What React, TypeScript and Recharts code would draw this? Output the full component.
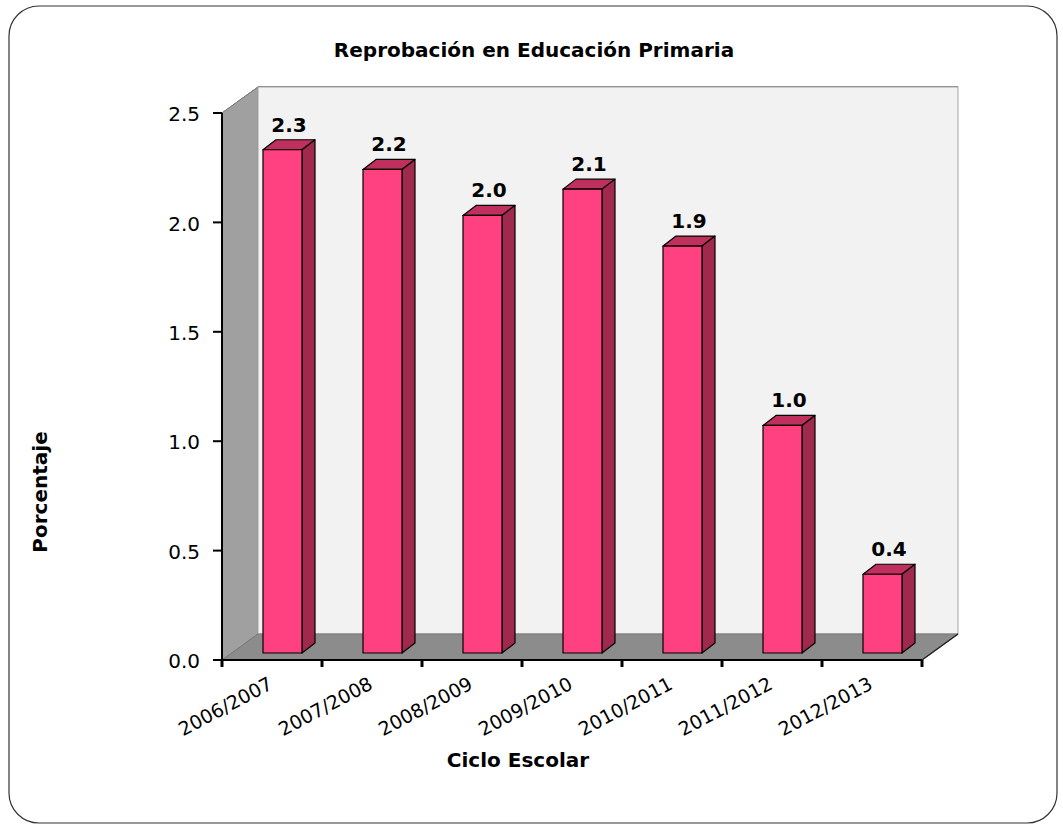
import { BarChart, Bar, XAxis, YAxis, CartesianGrid, LabelList, usePlotArea } from 'recharts'

const categories = ['2006/2007', '2007/2008', '2008/2009', '2009/2010', '2010/2011', '2011/2012', '2012/2013']
const reprobacion = [2.3, 2.21, 2.0, 2.12, 1.86, 1.04, 0.36]
const yTicks = [0, 0.5, 1.0, 1.5, 2.0, 2.5]

const data = categories.map((ciclo, i) => ({ ciclo, valor: reprobacion[i] }))

// 3d offsets (wall depth, bar position in depth, bar depth)
const DX = 36, DY = -26
const BX = 10, BY = -7
const BDX = 13, BDY = -10

const FONT = '"DejaVu Sans", Verdana, sans-serif'

const Frame = () => {
  const plot = usePlotArea()
  if (!plot) return null
  const { x, y, width, height } = plot
  const bottom = y + height
  const right = x + width
  const n = categories.length
  return (
    <g>
      <polygon points={`${x},${y} ${x + DX},${y + DY} ${x + DX},${bottom + DY} ${x},${bottom}`} fill="#a0a0a0" stroke="#808080" />
      <rect x={x + DX} y={y + DY} width={width} height={height} fill="#f2f2f2" stroke="#a6a6a6" />
      <polygon points={`${x},${bottom} ${x + DX},${bottom + DY} ${right + DX},${bottom + DY} ${right},${bottom}`} fill="#8c8c8c" stroke="#7a7a7a" />
      <line x1={right} y1={bottom} x2={right + DX} y2={bottom + DY} stroke="#222" strokeWidth={1.5} />
      {Array.from({ length: n + 1 }, (_, i) => {
        const tx = x + (i * width) / n
        return <line key={i} x1={tx} y1={bottom} x2={tx} y2={bottom + 7} stroke="#000" strokeWidth={3} />
      })}
      <line x1={x - 9} y1={bottom} x2={x} y2={bottom} stroke="#000" strokeWidth={2} />
    </g>
  )
}

const Bar3D = (props: any) => {
  const { x, y, width, height } = props
  if (height == null || height <= 0) return null
  const fx = x + BX, fy = y + BY, w = width, h = height
  return (
    <g stroke="#000" strokeWidth={1.2} strokeLinejoin="round">
      <polygon points={`${fx},${fy} ${fx + BDX},${fy + BDY} ${fx + w + BDX},${fy + BDY} ${fx + w},${fy}`} fill="#c0305f" />
      <polygon points={`${fx + w},${fy} ${fx + w + BDX},${fy + BDY} ${fx + w + BDX},${fy + h + BDY} ${fx + w},${fy + h}`} fill="#a0294e" />
      <rect x={fx} y={fy} width={w} height={h} fill="#ff4181" />
    </g>
  )
}

const ValueLabel = (props: any) => {
  const { x, y, width, value } = props
  return (
    <text x={x + BX + width / 2 + BDX / 2} y={y + BY + BDY - 8} textAnchor="middle" fontFamily={FONT} fontWeight="bold" fontSize={20} fill="#000">
      {Number(value).toFixed(1)}
    </text>
  )
}

const CategoryTick = (props: any) => {
  const { x, y, payload } = props
  return (
    <g transform={`translate(${x + 2},${y + 20})`}>
      <text textAnchor="end" transform="rotate(-28)" fontFamily={FONT} fontSize={19} fill="#000">
        {payload.value}
      </text>
    </g>
  )
}

export default function App() {
  return (
    <div style={{ position: 'absolute', left: 0, top: 0, width: 1063, height: 829, background: '#fff' }}>
      <svg width={1063} height={829} style={{ position: 'absolute', left: 0, top: 0 }}>
        <rect x={9} y={6} width={1048} height={817} rx={30} fill="#fff" stroke="#333" strokeWidth={1.2} />
        <text x={534} y={57} textAnchor="middle" fontFamily={FONT} fontWeight="bold" fontSize={20} fill="#000">
          Reprobación en Educación Primaria
        </text>
        <text x={518} y={767} textAnchor="middle" fontFamily={FONT} fontWeight="bold" fontSize={20} fill="#000">
          Ciclo Escolar
        </text>
        <text transform="translate(47,492) rotate(-90)" textAnchor="middle" fontFamily={FONT} fontWeight="bold" fontSize={20} fill="#000">
          Porcentaje
        </text>
      </svg>
      <div style={{ position: 'absolute', left: 0, top: 0 }}>
        <BarChart width={1063} height={829} data={data} margin={{ top: 113, right: 141, bottom: 0, left: 0 }} barSize={39}>
          <Frame />
          <CartesianGrid
            vertical={false}
            horizontal={(p: any) => (
              <g key={p.key}>
                <line x1={p.x1} y1={p.y1} x2={p.x1 + DX} y2={p.y1 + DY} stroke="#333" strokeWidth={1} />
                <line x1={p.x1 + DX} y1={p.y1 + DY} x2={p.x2 + DX} y2={p.y2 + DY} stroke="#000" strokeWidth={1} />
              </g>
            )}
          />
          <XAxis dataKey="ciclo" height={169} axisLine={{ stroke: '#000', strokeWidth: 2 }} tickLine={false} tick={<CategoryTick />} interval={0} />
          <YAxis
            width={222}
            domain={[0, 2.5]}
            ticks={yTicks}
            axisLine={{ stroke: '#000', strokeWidth: 2 }}
            tickLine={{ stroke: '#000', strokeWidth: 2 }}
            tickSize={9}
            tick={{ fontSize: 20, fontFamily: FONT, fill: '#000', dx: -11, dy: 1 }}
            tickFormatter={(v: number) => v.toFixed(1)}
          />
          <Bar dataKey="valor" shape={<Bar3D />} isAnimationActive={false}>
            <LabelList dataKey="valor" content={<ValueLabel />} />
          </Bar>
        </BarChart>
      </div>
    </div>
  )
}
